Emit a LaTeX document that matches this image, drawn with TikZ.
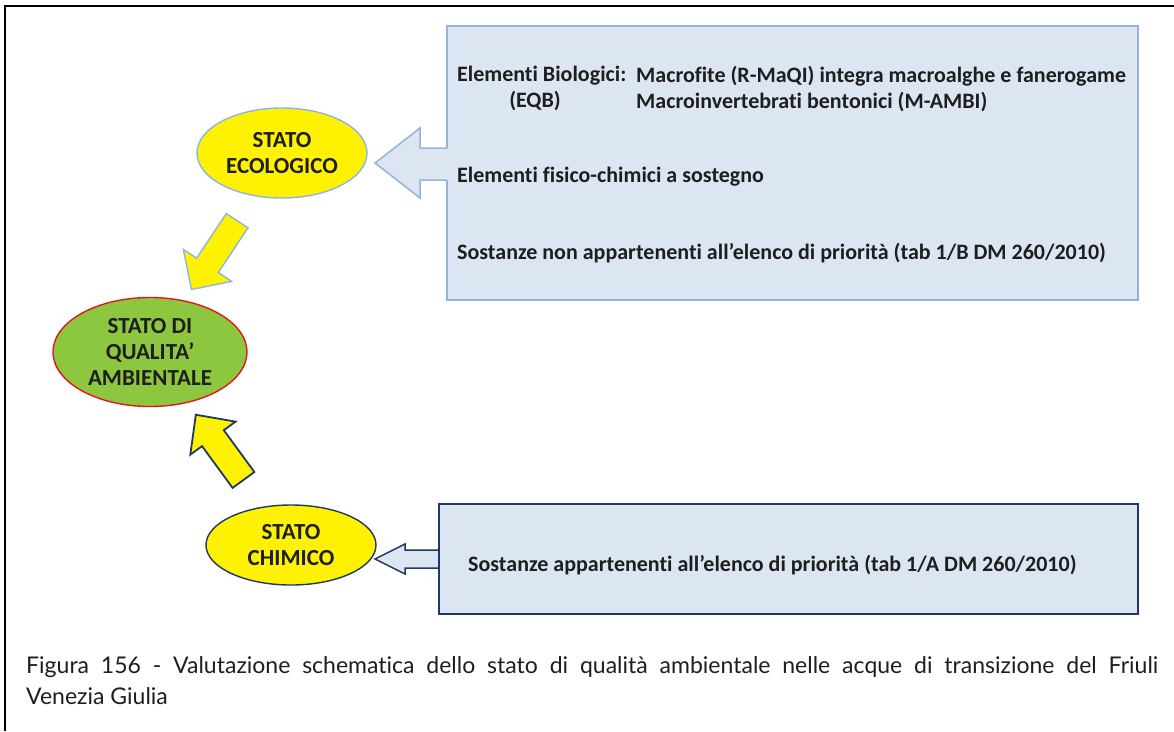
\documentclass[tikz,border=0pt]{standalone}
\usepackage{fontspec}
\setmainfont[Ligatures=NoCommon]{Carlito}
\newfontfamily\captionfont[Ligatures=NoCommon]{Lato}
\usepackage{tikz}
\usetikzlibrary{positioning, shapes.geometric, calc}
\usepackage{xcolor}

\definecolor{boxfill}{HTML}{DCE6F2}
\definecolor{boxline}{HTML}{95B3D7}
\definecolor{navyline}{HTML}{1F3864}
\definecolor{ecoline}{HTML}{8EB4E3}
\definecolor{ambfill}{HTML}{8DC63F}
\definecolor{ambline}{HTML}{E5161B}
\definecolor{txt}{HTML}{1E1E1E}

% fat block arrow: style, from, to, shaft half width, head half width
\newcommand{\fatarrow}[5]{%
  \coordinate (fa-s) at (#2);
  \coordinate (fa-t) at (#3);
  \coordinate (fa-b) at ($(fa-t)!29pt!(fa-s)$);
  \draw[#1] ($(fa-s)!#4!90:(fa-t)$) -- ($(fa-b)!#4!90:(fa-t)$)
    -- ($(fa-b)!#5!90:(fa-t)$) -- (fa-t) -- ($(fa-b)!#5!-90:(fa-t)$)
    -- ($(fa-b)!#4!-90:(fa-t)$) -- ($(fa-s)!#4!-90:(fa-t)$) -- cycle;
}

\begin{document}
\begin{tikzpicture}[x=1pt, y=-1pt,
    stato/.style={ellipse, draw, line width=1.4pt, inner sep=0pt, align=center, text=txt,
      font=\bfseries\fontsize{23}{26}\selectfont},
    boxtext/.style={anchor=west, inner sep=0pt, text=txt, font=\bfseries\fontsize{22}{26}\selectfont},
    panel/.style={fill=boxfill, line width=1.5pt, inner sep=0pt}]
    \useasboundingbox (0,0) rectangle (1174,731);

    % Frame
    \draw[line width=2pt] (1174,6) -- (5,6) -- (5,731);

    % Define the states
    \node[stato, draw=ecoline, fill=yellow, minimum width=170pt, minimum height=90pt] (eco) at (282,153) {STATO\\ECOLOGICO};
    \node[stato, draw=ambline, fill=ambfill, minimum width=194pt, minimum height=109pt] (amb) at (150,352) {STATO DI\\QUALITA'\\AMBIENTALE};
    \node[stato, draw=navyline, fill=yellow, minimum width=170pt, minimum height=80pt] (chi) at (291,545) {STATO\\CHIMICO};

    % Upper panel (biological elements)
    \node[panel, draw=boxline, minimum width=691pt, minimum height=274pt] (bio) at (792.5,163) {};
    \fill[boxfill] (449,148) -- (420,148) -- (420,128) -- (375,163) -- (420,198) -- (420,180) -- (449,180) -- cycle;
    \draw[boxline, line width=1.5pt, line join=miter] (447,148) -- (420,148) -- (420,128) -- (375,163) -- (420,198) -- (420,180) -- (447,180);

    \node[boxtext] (bioLbl) at (457,76) {Elementi Biologici:};
    \node[boxtext, anchor=center] (eqb) at (535,101) {(EQB)};
    \node[boxtext] (macro) at (636,76) {Macrofite (R-MaQI) integra macroalghe e fanerogame};
    \node[boxtext] (invert) at (636,102) {Macroinvertebrati bentonici (M-AMBI)};
    \node[boxtext] (fisico) at (457,177) {Elementi fisico-chimici a sostegno};
    \node[boxtext] (nonprio) at (457,253) {Sostanze non appartenenti all’elenco di priorità (tab 1/B DM 260/2010)};

    % Lower panel (priority substances)
    \draw[boxline, fill=boxfill, draw=navyline, line width=1.5pt, line join=miter] (439,550) -- (405,550) -- (405,544) -- (375,559) -- (405,574) -- (405,568) -- (439,568) -- cycle;
    \node[panel, draw=navyline, line width=2pt, minimum width=699pt, minimum height=110pt] (prio) at (788.5,559) {};
    \node[boxtext] (prioTxt) at (468,565) {Sostanze appartenenti all’elenco di priorità (tab 1/A DM 260/2010)};

    % Yellow arrows towards the overall state
    \fatarrow{fill=yellow, draw=ecoline, line width=1.4pt, line join=miter}{$(eco)!0.34!(amb)$}{$(eco)!0.686!(amb)$}{13pt}{29pt}
    \fatarrow{fill=yellow, draw=navyline, line width=1.8pt, line join=miter}{$(chi)!0.337!(amb)$}{$(chi)!0.675!(amb)$}{13.5pt}{28pt}

    % Caption
    \node[anchor=north west, text width=1132pt, align=justify, inner sep=0pt, text=txt,
      font=\captionfont\fontsize{23}{31}\selectfont] (caption) at (26,656)
      {Figura 156 - Valutazione schematica dello stato di qualità ambientale nelle acque di transizione del Friuli\linebreak Venezia Giulia};
\end{tikzpicture}
\end{document}
